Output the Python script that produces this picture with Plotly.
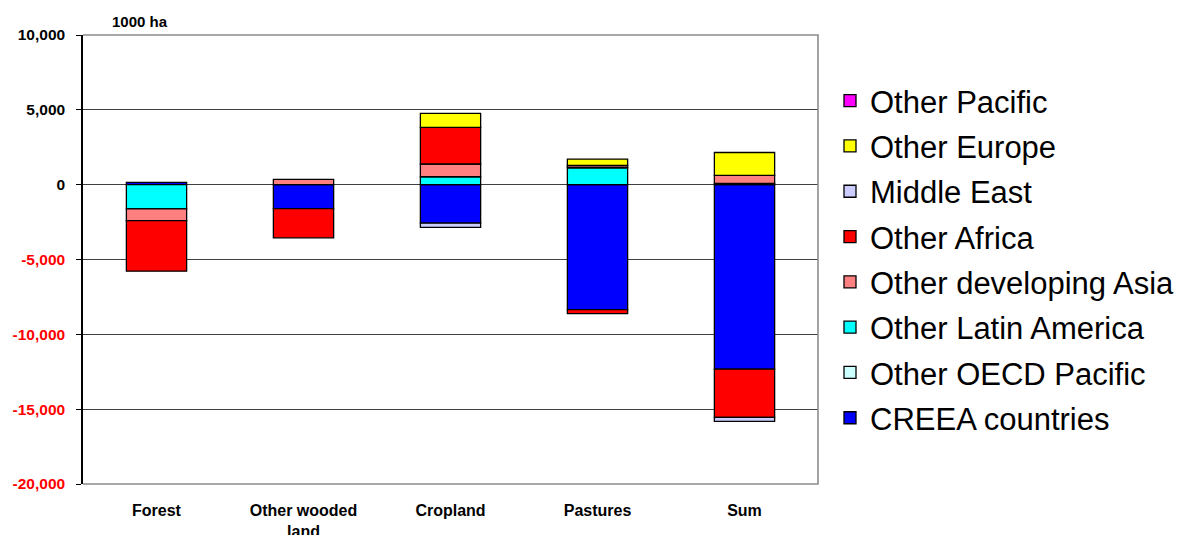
import plotly.graph_objects as go

# Land-use change by region, 1000 ha
categories = ["Forest", "Other wooded<br>land", "Cropland", "Pastures", "Sum"]

creea = [150, -1600, -2570, -8350, -12330]
other_oecd_pacific = [None, None, None, None, None]
other_latin_america = [-1620, None, 530, 1130, 90]
other_dev_asia = [-780, 350, 850, 150, 530]
other_africa = [-3380, -1950, 2450, -270, -3220]
middle_east = [None, None, -290, None, -270]
other_europe = [None, None, 930, 430, 1530]
other_pacific = [None, None, None, None, None]

series = [
    ("CREEA countries", creea, "#0000FF"),
    ("Other OECD Pacific", other_oecd_pacific, "#CCFFFF"),
    ("Other Latin America", other_latin_america, "#00FFFF"),
    ("Other developing Asia", other_dev_asia, "#FF8080"),
    ("Other Africa", other_africa, "#FF0000"),
    ("Middle East", middle_east, "#CCCCFF"),
    ("Other Europe", other_europe, "#FFFF00"),
    ("Other Pacific", other_pacific, "#FF00FF"),
]

ytick_vals = [10000, 5000, 0, -5000, -10000, -15000, -20000]
ytick_text = ["10,000", "5,000", "0", "-5,000", "-10,000", "-15,000", "-20,000"]

FONT = "Liberation Sans, Arial, sans-serif"

fig = go.Figure()
n = len(series)
for i, (name, vals, color) in enumerate(series):
    fig.add_trace(go.Bar(
        x=list(range(len(categories))), y=vals, name=name,
        marker=dict(color=color, line=dict(color="#000000", width=1.3)),
        width=0.41, legendgroup=name, legendrank=n - i,
    ))

ticktext = [
    (f"<span style='color:#FF0000'>{t}</span>" if v < 0 else t)
    for v, t in zip(ytick_vals, ytick_text)
]

fig.update_layout(
    width=1180, height=535,
    margin=dict(l=83, r=362, t=35, b=51),
    paper_bgcolor="white", plot_bgcolor="white",
    barmode="relative",
    font=dict(family=FONT, color="black"),
    xaxis=dict(
        range=[-0.5, 4.5], automargin=False,
        tickvals=list(range(len(categories))), ticktext=categories,
        tickfont=dict(size=16, weight="bold"),
        showgrid=False, zeroline=False, ticks="",
        showline=False,
        ticklabelstandoff=15,
    ),
    xaxis2=dict(
        overlaying="x", anchor="free", position=2 / 3,
        range=[-0.5, 4.5], tickvals=[0.5, 1.5, 2.5, 3.5],
        ticks="outside", ticklen=5, tickwidth=1.3, tickcolor="#404040",
        showticklabels=False, showgrid=False, zeroline=False, showline=False,
    ),
    yaxis=dict(
        range=[-20000, 10000], automargin=False,
        tickvals=ytick_vals, ticktext=ticktext,
        tickfont=dict(size=15.5, weight="bold"),
        showgrid=True, gridcolor="#404040", gridwidth=1.2,
        zeroline=True, zerolinecolor="#404040", zerolinewidth=1.3,
        ticks="outside", ticklen=5, tickcolor="#000000",
        showline=True, linecolor="#000000", linewidth=1.5,
        ticklabelstandoff=8,
    ),
    legend=dict(
        xref="container", yref="container",
        x=830 / 1180, y=1 - 74 / 535, xanchor="left", yanchor="top",
        font=dict(size=31, family=FONT),
        traceorder="grouped", tracegroupgap=2, maxheight=520,
        bgcolor="rgba(0,0,0,0)",
    ),
    shapes=[dict(
        type="path", xref="paper", yref="paper",
        path="M 0 1 L 1 1 L 1 0 L 0 0",
        line=dict(color="#8C8C8C", width=1.6), layer="above",
    )],
    annotations=[dict(
        text="<b>1000 ha</b>", xref="paper", yref="paper",
        x=(140 - 83) / 735, y=1 + 14 / 449, xanchor="center", yanchor="middle",
        showarrow=False, font=dict(size=15, family=FONT),
    )],
)

fig.write_html("out.html")
